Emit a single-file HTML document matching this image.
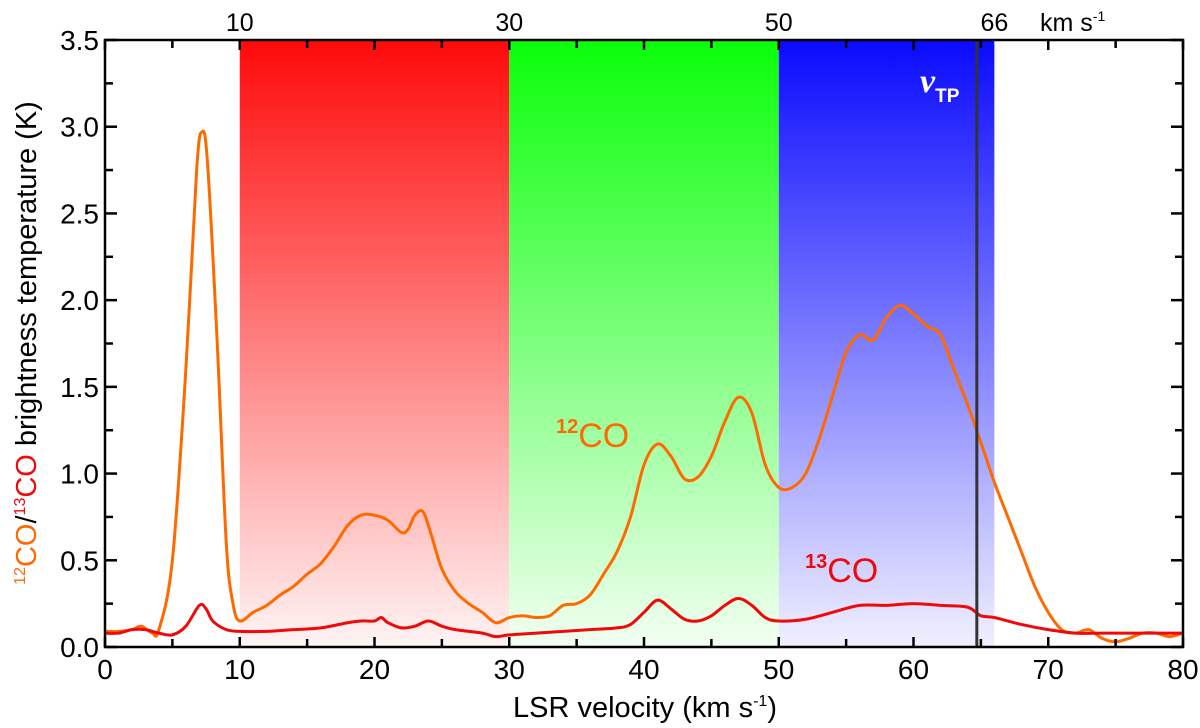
<!DOCTYPE html>
<html><head><meta charset="utf-8"><style>
body{margin:0;background:#fff}
svg{display:block;font-family:"Liberation Sans",Arial,sans-serif}
</style></head><body>
<svg id="chart" width="1200" height="728" viewBox="0 0 1200 728">
<defs>
<linearGradient id="gr" x1="0" y1="0" x2="0" y2="1"><stop offset="0" stop-color="#ff0a0a"/><stop offset="1" stop-color="#fff4f4"/></linearGradient>
<linearGradient id="gg" x1="0" y1="0" x2="0" y2="1"><stop offset="0" stop-color="#0aff0a"/><stop offset="1" stop-color="#f2fff2"/></linearGradient>
<linearGradient id="gb" x1="0" y1="0" x2="0" y2="1"><stop offset="0" stop-color="#0a0aff"/><stop offset="1" stop-color="#f0f0ff"/></linearGradient>
</defs>
<g id="bands"></g>
<g id="curves"></g>
<g id="axes"></g>
</svg>
<script>
const bandStarts=[10,30,50];
const bandEnds=[30,50,66];
const bandFills=['url(#gr)','url(#gg)','url(#gb)'];
const vTP=64.7;
const v12=[0,1,2,2.7,3.5,4,5,6,6.8,7.2,7.6,8.3,9,9.5,10,11,12,13,14,15,16,17,18,19,20,21,22,22.5,23,23.6,24.2,25,26,27,28,29,30,31,32,33,34,35,36,37,38,39,40,41,42,43,44,45,46,47,48,49,50,51,52,53,54,55,56,57,58,59,60,61,62,63,64,65,66,67,68,69,70,71,72,73,74,75,76,77,78,79,80];
const t12=[0.09,0.09,0.1,0.12,0.08,0.1,0.5,1.6,2.75,2.97,2.8,1.8,0.6,0.25,0.15,0.2,0.24,0.3,0.35,0.42,0.48,0.58,0.7,0.76,0.76,0.73,0.66,0.68,0.76,0.78,0.65,0.45,0.32,0.25,0.2,0.14,0.17,0.18,0.17,0.18,0.24,0.25,0.3,0.42,0.55,0.75,1.05,1.17,1.1,0.97,0.98,1.1,1.3,1.44,1.35,1.05,0.92,0.92,1.0,1.2,1.45,1.7,1.8,1.77,1.9,1.97,1.92,1.85,1.8,1.6,1.4,1.18,0.95,0.75,0.55,0.35,0.2,0.1,0.08,0.1,0.05,0.03,0.05,0.08,0.08,0.06,0.08];
const v13=[0,1,2,3,4,5,6,7,7.5,8,9,10,12,14,16,18,19,20,20.5,21,22,23,24,25,26,28,29,30,32,34,36,38,39,40,41,42,43,44,45,46,47,48,49,50,52,54,56,58,60,62,64,65,66,68,70,72,74,76,78,80];
const t13=[0.08,0.08,0.1,0.1,0.08,0.07,0.12,0.24,0.22,0.15,0.1,0.09,0.09,0.1,0.11,0.14,0.15,0.15,0.17,0.14,0.11,0.12,0.15,0.12,0.1,0.08,0.06,0.07,0.08,0.09,0.1,0.11,0.13,0.2,0.27,0.22,0.16,0.15,0.18,0.24,0.28,0.24,0.17,0.15,0.16,0.2,0.24,0.24,0.25,0.24,0.23,0.18,0.17,0.13,0.1,0.08,0.08,0.08,0.08,0.08];
const xTicks=[0,10,20,30,40,50,60,70,80];
const yTicks=[0,0.5,1,1.5,2,2.5,3,3.5];
const topLabels=[10,30,50,66];
const X0=105,X1=1183,Y0=647,Y1=40;
const sx=v=>X0+(v/80)*(X1-X0);
const sy=t=>Y0-(t/3.5)*(Y0-Y1);
const NS='http://www.w3.org/2000/svg';
function mk(tag,attrs,parent){const e=document.createElementNS(NS,tag);for(const k in attrs)e.setAttribute(k,attrs[k]);parent.appendChild(e);return e;}
const gB=document.getElementById('bands'),gC=document.getElementById('curves'),gA=document.getElementById('axes');
bandStarts.forEach((s,i)=>{const r=mk('rect',{x:sx(s),y:Y1,width:sx(bandEnds[i])-sx(s),height:Y0-Y1,fill:bandFills[i]},gB);

});
function smooth(xs,ys){const p=xs.map((x,i)=>[sx(x),sy(ys[i])]);let d='M'+p[0][0]+','+p[0][1];
for(let i=0;i<p.length-1;i++){const a=p[Math.max(0,i-1)],b=p[i],c=p[i+1],e=p[Math.min(p.length-1,i+2)];
d+=' C'+(b[0]+(c[0]-a[0])/6)+','+(b[1]+(c[1]-a[1])/6)+' '+(c[0]-(e[0]-b[0])/6)+','+(c[1]-(e[1]-b[1])/6)+' '+c[0]+','+c[1];}return d;}
const c12=mk('path',{d:smooth(v12,t12),fill:'none',stroke:'#ff6a00','stroke-width':3},gC);


const c13=mk('path',{d:smooth(v13,t13),fill:'none',stroke:'#ee0a0a','stroke-width':3},gC);


const vl=mk('line',{x1:sx(vTP),x2:sx(vTP),y1:Y1,y2:Y0,stroke:'#333','stroke-width':3},gC);


const box=mk('rect',{x:X0,y:Y1,width:X1-X0,height:Y0-Y1,fill:'none',stroke:'#000','stroke-width':2.5},gA);


for(let v=0;v<=80;v+=5){const L=(v%10===0)?10:8;
mk('line',{x1:sx(v),x2:sx(v),y1:Y0,y2:Y0-L,stroke:'#000','stroke-width':2.5},gA);
mk('line',{x1:sx(v),x2:sx(v),y1:Y1,y2:Y1+L,stroke:'#000','stroke-width':2.5},gA);}
for(let t=0;t<=3.5001;t+=0.25){const L=(Math.abs(t*2-Math.round(t*2))<1e-6)?12:8;
mk('line',{x1:X0,x2:X0+L,y1:sy(t),y2:sy(t),stroke:'#000','stroke-width':2.5},gA);
mk('line',{x1:X1,x2:X1-L,y1:sy(t),y2:sy(t),stroke:'#000','stroke-width':2.5},gA);}
xTicks.forEach(v=>{const t=mk('text',{x:sx(v),y:Y0+32,'font-size':28,'text-anchor':'middle'},gA);t.textContent=v;

});
yTicks.forEach(v=>{const t=mk('text',{x:X0-6,y:sy(v)+10,'font-size':28,'text-anchor':'end'},gA);t.textContent=v.toFixed(1);

});
topLabels.forEach(v=>{const t=mk('text',{x:sx(v),y:31,'font-size':25,'text-anchor':'middle'},gA);t.textContent=v;

});
</script>
<svg style="position:absolute;left:0;top:0" width="1200" height="728">
<text x="1040" y="31" font-size="25" font-family="Liberation Sans,sans-serif">km s<tspan dy="-10" font-size="14">-1</tspan></text>
<text x="645" y="717" font-size="29" text-anchor="middle" font-family="Liberation Sans,sans-serif">LSR velocity (km s<tspan dy="-11" font-size="16">-1</tspan><tspan dy="11">)</tspan></text>
<text transform="translate(36,343) rotate(-90)" font-size="29" text-anchor="middle" font-family="Liberation Sans,sans-serif"><tspan fill="#ff6a00" font-size="16" dy="-11">12</tspan><tspan fill="#ff6a00" dy="11">CO</tspan>/<tspan fill="#ee0a0a" font-size="16" dy="-11">13</tspan><tspan fill="#ee0a0a" dy="11">CO</tspan> brightness temperature (K)</text>
<text x="556" y="447" font-size="34" fill="#ff6a00" font-family="Liberation Sans,sans-serif"><tspan font-size="20" dy="-14" font-weight="bold">12</tspan><tspan dy="14">CO</tspan></text>
<text x="805" y="582" font-size="34" fill="#ee0a0a" font-family="Liberation Sans,sans-serif"><tspan font-size="20" dy="-14" font-weight="bold">13</tspan><tspan dy="14">CO</tspan></text>
<text x="920" y="92" font-size="34" fill="#fff" font-style="italic" font-family="Liberation Serif,serif" font-weight="bold">ν<tspan font-size="19" font-style="normal" font-family="Liberation Sans,sans-serif" dy="10">TP</tspan></text>
</svg>
</body></html>
